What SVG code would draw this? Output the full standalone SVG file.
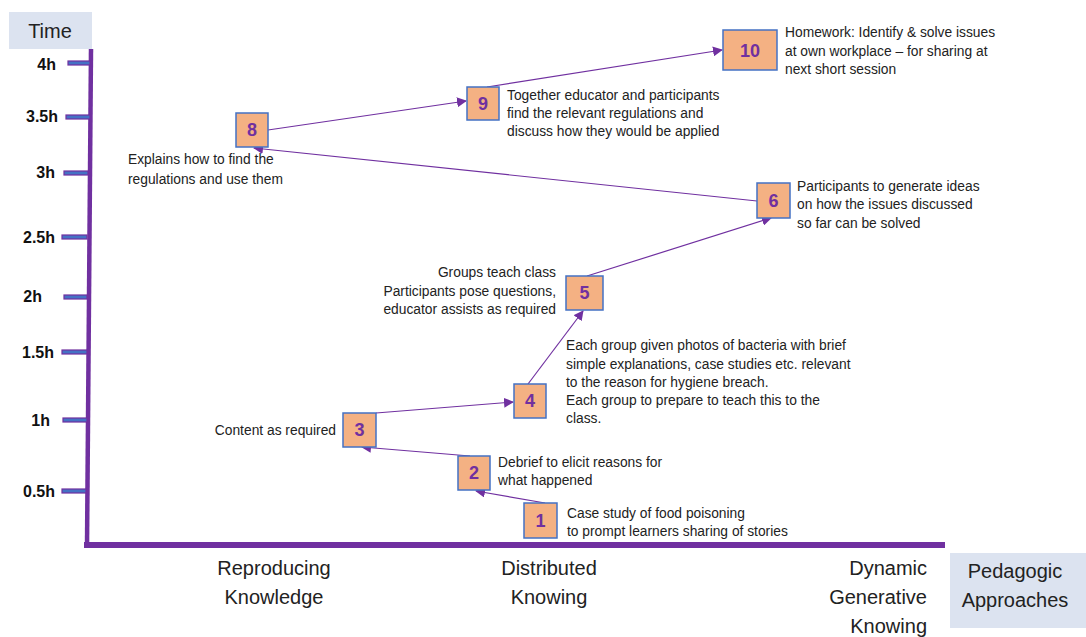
<svg xmlns="http://www.w3.org/2000/svg" width="1086" height="637" viewBox="0 0 1086 637">
  <defs>
    <marker id="arr" viewBox="0 0 10 10" refX="9" refY="5" markerWidth="10" markerHeight="10" markerUnits="userSpaceOnUse" orient="auto">
      <path d="M0,0 L10,5 L0,10 Z" fill="#7030a0"/>
    </marker>
    <style>
      .lbl { font-family: "Liberation Sans", Arial, sans-serif; font-size: 13.8px; fill: #222; }
      .axl { font-family: "Liberation Sans", Arial, sans-serif; font-size: 20px; fill: #222; }
      .tick { fill: #4472c4; stroke: #7030a0; stroke-width: 1.2; }
      .tlbl { font-family: "Liberation Sans", Arial, sans-serif; font-size: 16px; font-weight: bold; fill: #111; text-anchor: end; }
      .box { fill: #f4b183; stroke: #4472c4; stroke-width: 1.5; }
      .num { font-family: "Liberation Sans", Arial, sans-serif; font-size: 18px; font-weight: bold; fill: #7030a0; text-anchor: middle; }
      .conn { stroke: #7030a0; stroke-width: 1.2; fill: none; marker-end: url(#arr); }
      .hdr { fill: #dce3f0; }
    </style>
  </defs>
  <rect width="1086" height="637" fill="#ffffff"/>

  <!-- axes -->
  <g id="axes">
    <rect class="hdr" x="9" y="12" width="83" height="37"/>
    <text class="axl" x="50" y="38" text-anchor="middle">Time</text>
    <path d="M91,49 L87,547" stroke="#7030a0" stroke-width="4.5" fill="none"/>
    <path d="M84,545 L945,545" stroke="#7030a0" stroke-width="6" fill="none"/>
    <rect class="tick" x="68" y="61" width="22" height="4"/>
    <rect class="tick" x="66" y="115" width="24" height="4"/>
    <rect class="tick" x="64" y="171" width="24" height="4"/>
    <rect class="tick" x="62" y="235" width="25" height="4"/>
    <rect class="tick" x="64" y="295" width="23" height="4"/>
    <rect class="tick" x="62" y="350" width="25" height="4"/>
    <rect class="tick" x="63" y="418" width="24" height="4"/>
    <rect class="tick" x="62" y="489" width="24" height="4"/>
    <text class="tlbl" x="56" y="70">4h</text>
    <text class="tlbl" x="58" y="122">3.5h</text>
    <text class="tlbl" x="55" y="178">3h</text>
    <text class="tlbl" x="55" y="243">2.5h</text>
    <text class="tlbl" x="42" y="302">2h</text>
    <text class="tlbl" x="54" y="358">1.5h</text>
    <text class="tlbl" x="50" y="426">1h</text>
    <text class="tlbl" x="55" y="497">0.5h</text>
    <text class="axl" x="274" y="575" text-anchor="middle">Reproducing</text>
    <text class="axl" x="274" y="604" text-anchor="middle">Knowledge</text>
    <text class="axl" x="549" y="575" text-anchor="middle">Distributed</text>
    <text class="axl" x="549" y="604" text-anchor="middle">Knowing</text>
    <text class="axl" x="927" y="575" text-anchor="end">Dynamic</text>
    <text class="axl" x="927" y="604" text-anchor="end">Generative</text>
    <text class="axl" x="927" y="633" text-anchor="end">Knowing</text>
    <rect class="hdr" x="950" y="553" width="136" height="75"/>
    <text class="axl" x="1015" y="578" text-anchor="middle">Pedagogic</text>
    <text class="axl" x="1015" y="607" text-anchor="middle">Approaches</text>
  </g>

  <!-- connectors -->
  <g id="connectors">
    <path class="conn" d="M545,503 L476,491"/>
    <path class="conn" d="M470,456 L362,447"/>
    <path class="conn" d="M376,413 L513,402"/>
    <path class="conn" d="M528,384 L583,311"/>
    <path class="conn" d="M587,276 L771,218"/>
    <path class="conn" d="M757,201 L254,148"/>
    <path class="conn" d="M268,130 L466,101"/>
    <path class="conn" d="M487,87 L722,50"/>
  </g>

  <g id="node1">
    <rect class="box" x="524" y="503" width="33" height="35"/>
    <text class="num" x="540.5" y="527">1</text>
    <text class="lbl" x="567" y="518">Case study of food poisoning</text>
    <text class="lbl" x="567" y="536">to prompt learners sharing of stories</text>
  </g>
  <g id="node2">
    <rect class="box" x="458" y="456" width="32" height="34"/>
    <text class="num" x="474" y="479">2</text>
    <text class="lbl" x="498" y="467">Debrief to elicit reasons for</text>
    <text class="lbl" x="498" y="485">what happened</text>
  </g>
  <g id="node3">
    <rect class="box" x="343" y="413" width="33" height="34"/>
    <text class="num" x="359.5" y="436">3</text>
    <text class="lbl" x="336" y="435" text-anchor="end">Content as required</text>
  </g>
  <g id="node4">
    <rect class="box" x="514" y="384" width="32" height="34"/>
    <text class="num" x="530" y="407">4</text>
    <text class="lbl" x="566" y="350">Each group given photos of bacteria with brief</text>
    <text class="lbl" x="566" y="369">simple explanations, case studies etc. relevant</text>
    <text class="lbl" x="566" y="387">to the reason for hygiene breach.</text>
    <text class="lbl" x="566" y="405">Each group to prepare to teach this to the</text>
    <text class="lbl" x="566" y="423">class.</text>
  </g>
  <g id="node5">
    <rect class="box" x="566" y="276" width="37" height="34"/>
    <text class="num" x="584.5" y="299">5</text>
    <text class="lbl" x="556" y="277" text-anchor="end">Groups teach class</text>
    <text class="lbl" x="556" y="296" text-anchor="end">Participants pose questions,</text>
    <text class="lbl" x="556" y="314" text-anchor="end">educator assists as required</text>
  </g>
  <g id="node6">
    <rect class="box" x="757" y="183" width="33" height="35"/>
    <text class="num" x="773.5" y="207">6</text>
    <text class="lbl" x="797" y="191">Participants to generate ideas</text>
    <text class="lbl" x="797" y="209">on how the issues discussed</text>
    <text class="lbl" x="797" y="228">so far can be solved</text>
  </g>
  <g id="node8">
    <rect class="box" x="236" y="113" width="32" height="34"/>
    <text class="num" x="252" y="136">8</text>
    <text class="lbl" x="128" y="164">Explains how to find the</text>
    <text class="lbl" x="128" y="184">regulations and use them</text>
  </g>
  <g id="node9">
    <rect class="box" x="467" y="87" width="32" height="33"/>
    <text class="num" x="483" y="110">9</text>
    <text class="lbl" x="507" y="100">Together educator and participants</text>
    <text class="lbl" x="507" y="118">find the relevant regulations and</text>
    <text class="lbl" x="507" y="136">discuss how they would be applied</text>
  </g>
  <g id="node10">
    <rect class="box" x="723" y="30" width="54" height="40"/>
    <text class="num" x="750" y="57">10</text>
    <text class="lbl" x="785" y="37">Homework: Identify &amp; solve issues</text>
    <text class="lbl" x="785" y="56">at own workplace – for sharing at</text>
    <text class="lbl" x="785" y="74">next short session</text>
  </g>
</svg>
